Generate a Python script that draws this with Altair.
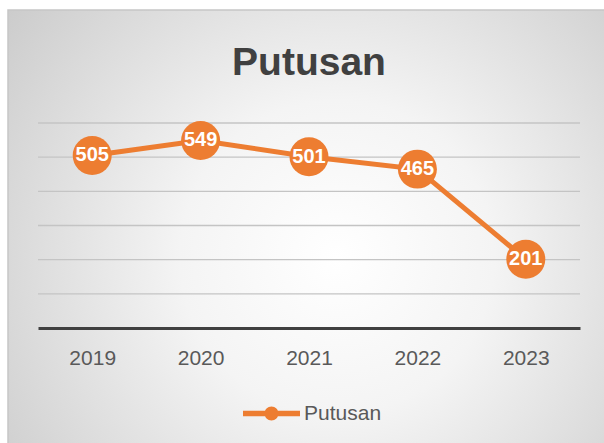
import altair as alt
import pandas as pd

years = ["2019", "2020", "2021", "2022", "2023"]
values = [505, 549, 501, 465, 201]
series = ["Putusan"] * 5
grid_values = [100, 200, 300, 400, 500, 600]

df = pd.DataFrame({"year": years, "value": values, "series": series})
gdf = pd.DataFrame({"value": grid_values})

W, H = 542, 205
FONT = "Liberation Sans"
ORANGE = "#ED7D31"

x = alt.X("year:O", title=None,
          scale=alt.Scale(type="point", padding=0.5),
          axis=alt.Axis(labelAngle=0, labelFontSize=21, labelColor="#595959", labelFont=FONT,
                        labelPadding=19, ticks=False, domainColor="#404040", domainWidth=3,
                        grid=False, zindex=1))
yscale = alt.Scale(domain=[0, 600], nice=False)
y = alt.Y("value:Q", title=None, scale=yscale, axis=None)

bg = alt.Chart(alt.Data(values=[{"a": 1}])).mark_rect(
    fill=alt.Gradient(gradient="radial",
                      stops=[alt.GradientStop(color="#ffffff", offset=0),
                             alt.GradientStop(color="#f4f4f4", offset=0.35),
                             alt.GradientStop(color="#c6c6c6", offset=1)],
                      x1=0.55, y1=0.55, r1=0, x2=0.55, y2=0.55, r2=0.75),
    stroke="#c6c6c6", strokeWidth=1.5
).encode(x=alt.value(-30), x2=alt.value(W + 26), y=alt.value(-113), y2=alt.value(H + 117))

grid = alt.Chart(gdf).mark_rule(color="#c4c4c4", strokeWidth=1.3).encode(y=y)

base = alt.Chart(df)
line = base.mark_line(color=ORANGE, strokeWidth=5).encode(x=x, y=y)
pts = base.mark_circle(size=1520, opacity=1).encode(
    x=x, y=y,
    color=alt.Color("series:N", title=None,
                    scale=alt.Scale(domain=["Putusan"], range=[ORANGE]),
                    legend=alt.Legend(orient="none", legendX=205, legendY=262, padding=0,
                                      symbolType="M-1,-0.096L1,-0.096L1,0.096L-1,0.096Z M-0.245,0A0.245,0.245,0,1,1,0.245,0A0.245,0.245,0,1,1,-0.245,0Z",
                                      symbolSize=3249, symbolStrokeWidth=0, symbolOpacity=1,
                                      labelFontSize=21, labelFont=FONT, labelColor="#595959",
                                      labelOffset=4, zindex=1)))
labels = base.mark_text(font=FONT, fontSize=20, fontWeight="bold", color="white",
                        align="center", baseline="middle").encode(x=x, y=y, text="value:Q")

chart = alt.layer(bg, grid, line, pts, labels).properties(
    width=W, height=H,
    title=alt.TitleParams("Putusan", font=FONT, fontSize=39, fontWeight="bold",
                          color="#404040", anchor="middle", offset=0, dy=74, zindex=1),
    autosize=alt.AutoSizeParams(type="none"),
    padding={"left": 38, "top": 123, "right": 24, "bottom": 115},
).configure_view(stroke=None).configure(background="white")

chart.save("out.html", embed_options={"renderer": "svg", "actions": False})
